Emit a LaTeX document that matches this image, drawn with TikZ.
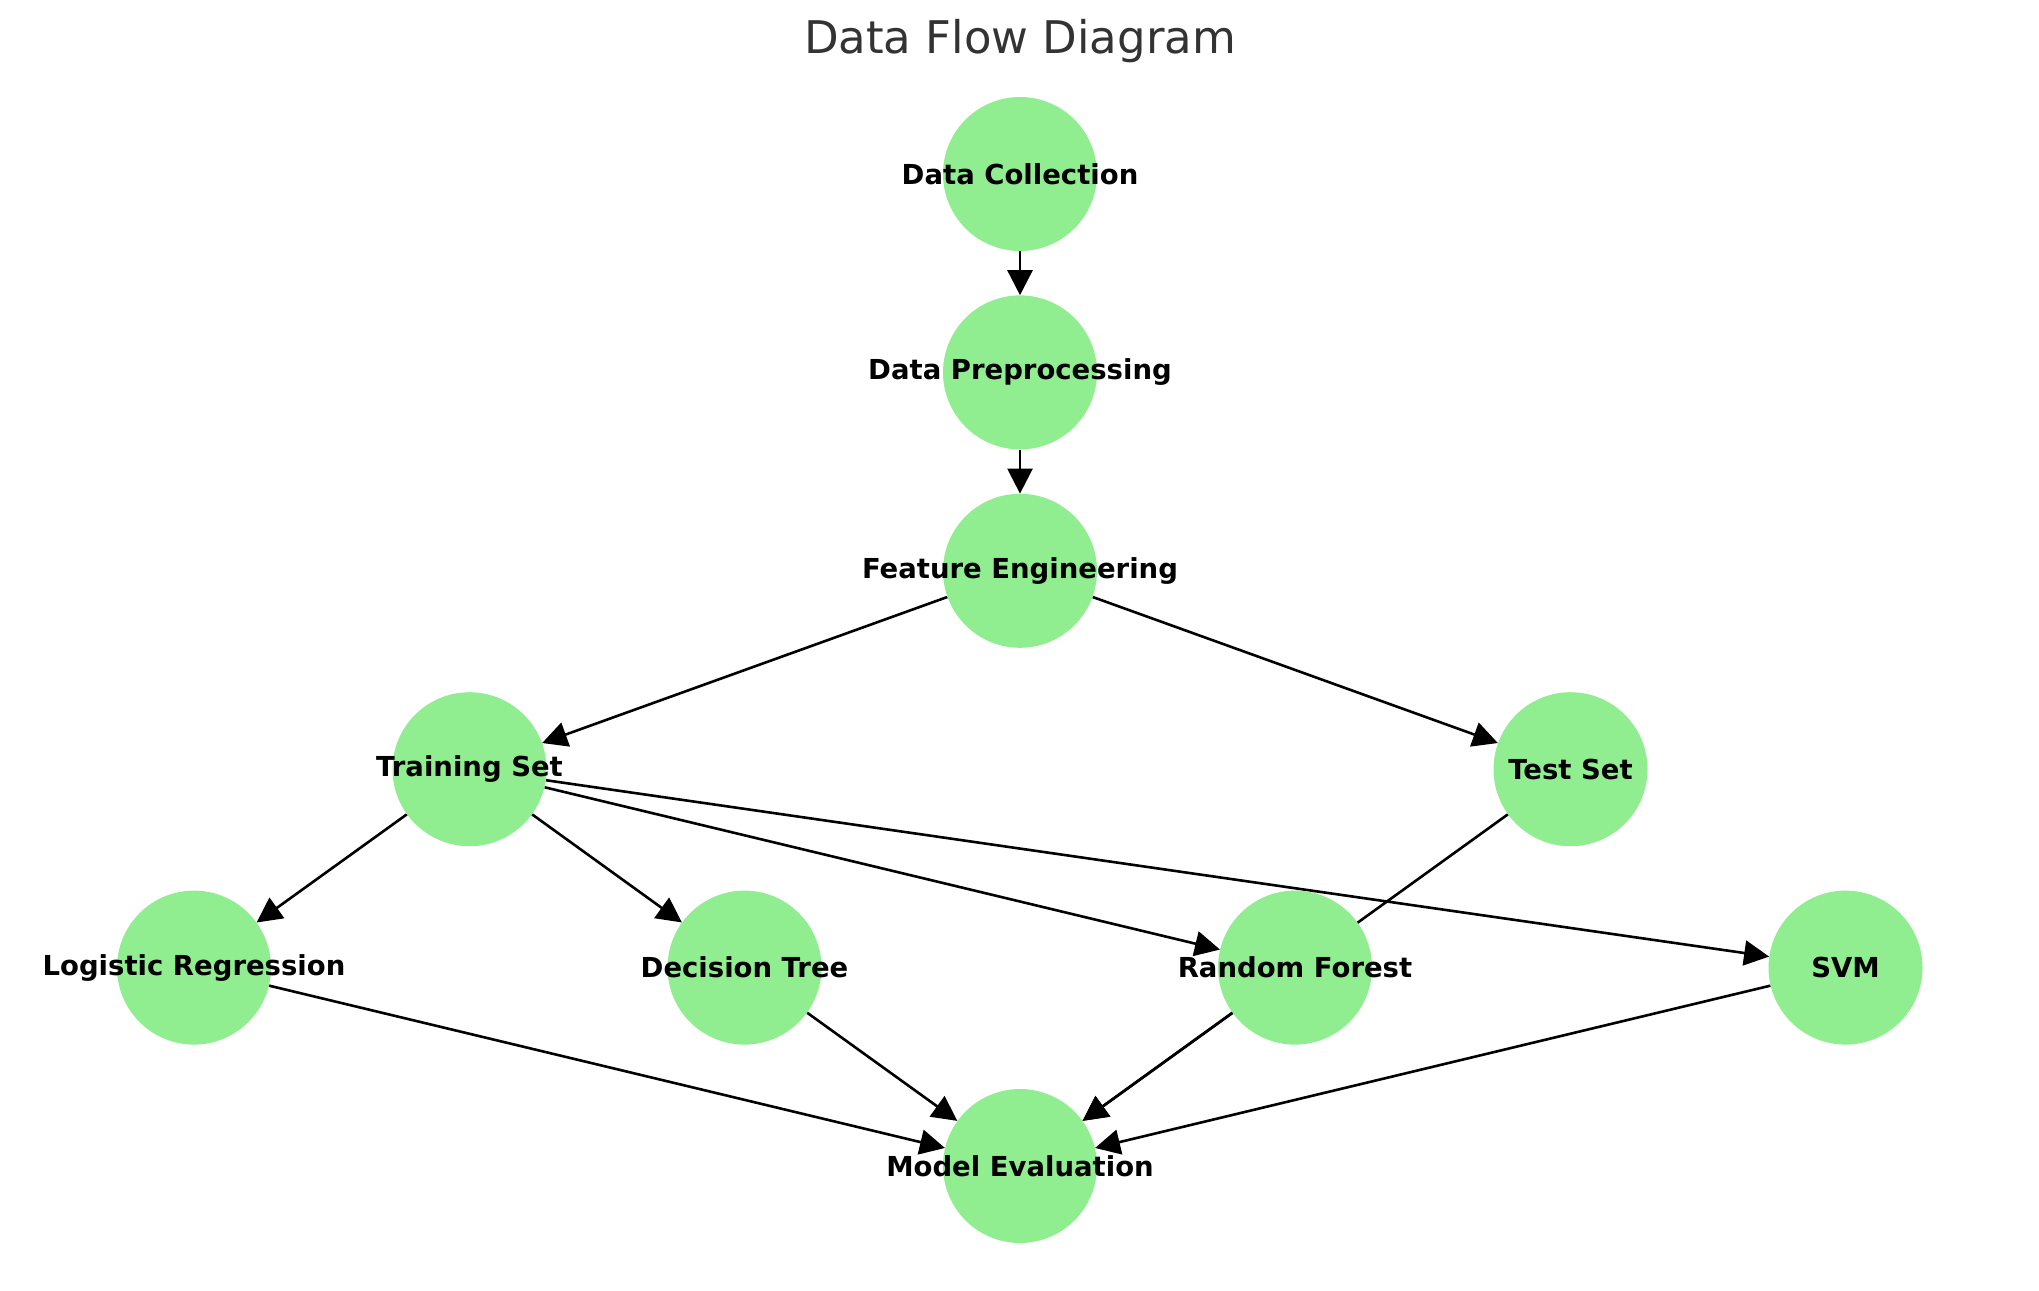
\documentclass[tikz,border=0pt]{standalone}
\usepackage{fontspec}
\setmainfont{DejaVu Sans}
\usetikzlibrary{arrows.meta,backgrounds}
\definecolor{nodegreen}{HTML}{90EE90}
\definecolor{titlegray}{HTML}{333333}
\begin{document}
\begin{tikzpicture}[x=1pt,y=-1pt,
  stage/.style={circle,fill=nodegreen,draw=none,minimum size=154pt,inner sep=0pt},
  stagetext/.style={inner sep=0pt,font=\fontsize{27.5}{30}\selectfont\bfseries,text=black},
  flow/.style={line width=2.6pt,draw=black,-{Triangle[length=25pt,width=25pt]}}]
\useasboundingbox (0,0) rectangle (2039,1290);
\node[font=\fontsize{45}{50}\selectfont,text=titlegray,anchor=base] (title) at (1020,54) {Data Flow Diagram};
\node[stage] (dc) at (1020,174) {};
\node[stage] (dp) at (1020,372.4) {};
\node[stage] (fe) at (1020,570.8) {};
\node[stage] (ts) at (469.5,769.2) {};
\node[stage] (te) at (1570.5,769.2) {};
\node[stage] (lr) at (194,967.6) {};
\node[stage] (dt) at (744.5,967.6) {};
\node[stage] (rf) at (1295,967.6) {};
\node[stage] (svm) at (1845.5,967.6) {};
\node[stage] (me) at (1020,1166) {};
\begin{scope}[on background layer]
\fill[white] (0,0) rectangle (2039,1290);
\draw[flow] (dc) -- (dp);
\draw[flow] (dp) -- (fe);
\draw[flow] (fe) -- (ts);
\draw[flow] (fe) -- (te);
\draw[flow] (ts) -- (lr);
\draw[flow] (ts) -- (dt);
\draw[flow] (ts) -- (rf);
\draw[flow] (ts) -- (svm);
\draw[flow] (te) -- (me);
\draw[flow] (lr) -- (me);
\draw[flow] (dt) -- (me);
\draw[flow] (rf) -- (me);
\draw[flow] (svm) -- (me);
\end{scope}
\node[stagetext] (dcl) at (dc) {Data Collection};
\node[stagetext] (dpl) at (dp) {Data Preprocessing};
\node[stagetext] (fel) at (fe) {Feature Engineering};
\node[stagetext] (tsl) at (ts) {Training Set};
\node[stagetext] (tel) at (te) {Test Set};
\node[stagetext] (lrl) at (lr) {Logistic Regression};
\node[stagetext] (dtl) at (dt) {Decision Tree};
\node[stagetext] (rfl) at (rf) {Random Forest};
\node[stagetext] (svml) at (svm) {SVM};
\node[stagetext] (mel) at (me) {Model Evaluation};
\end{tikzpicture}
\end{document}
